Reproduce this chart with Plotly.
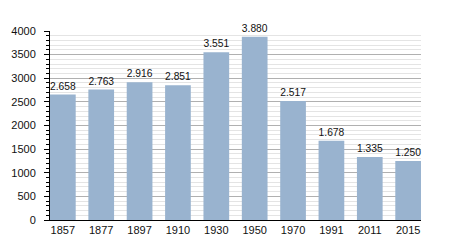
import plotly.graph_objects as go

years = ["1857", "1877", "1897", "1910", "1930", "1950", "1970", "1991", "2011", "2015"]
population = [2658, 2763, 2916, 2851, 3551, 3880, 2517, 1678, 1335, 1250]
y_ticks = [0, 500, 1000, 1500, 2000, 2500, 3000, 3500, 4000]

labels = [f"{v:,}".replace(",", ".") for v in population]

fig = go.Figure(go.Bar(
    x=years, y=population, text=labels, textposition="outside",
    marker=dict(color="#99b3cf", line=dict(width=0)),
    width=0.67, cliponaxis=False,
    textfont=dict(size=11, color="#111"),
))

fig.update_layout(
    width=450, height=250,
    margin=dict(l=50, r=29, t=31, b=29.5),
    plot_bgcolor="white", paper_bgcolor="white",
    font=dict(family="Liberation Sans, Arial, sans-serif", size=11, color="#111"),
    showlegend=False,
    xaxis=dict(type="category", range=[-0.335, 9.335], showline=True, linecolor="#000",
               linewidth=1, ticks="", showgrid=False, tickfont=dict(size=11)),
    yaxis=dict(range=[0, 4000], tickvals=y_ticks, showline=True, linecolor="#000",
               linewidth=1, ticks="outside", ticklen=5, tickcolor="#000",
               ticklabelstandoff=6,
               gridcolor="#b0b0b0", gridwidth=1, zeroline=False,
               tickfont=dict(size=11),
               minor=dict(dtick=100, showgrid=True, gridcolor="#e4e4e4", gridwidth=1,
                          ticks="outside", ticklen=3, tickcolor="#000")),
)

fig.write_html("out.html")
